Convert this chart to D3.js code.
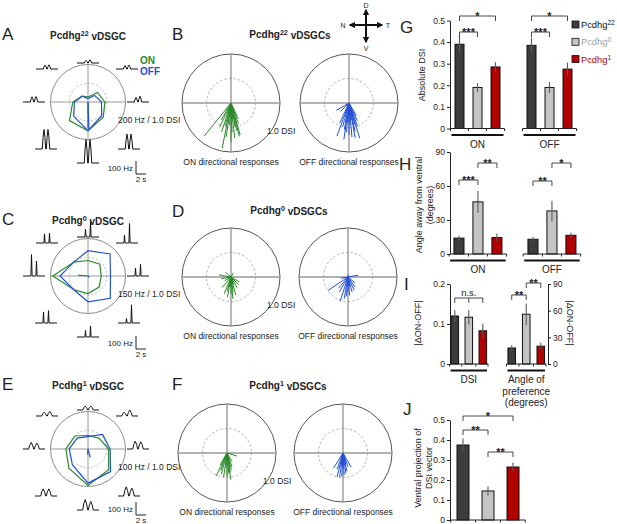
<!DOCTYPE html>
<html>
<head>
<meta charset="utf-8">
<script src="https://cdn.jsdelivr.net/npm/d3@7"></script>
<style>
  body { margin: 0; background: #fff; }
  svg { font-family: "Liberation Sans", Arial, Helvetica, sans-serif; }
</style>
</head>
<body>
<script>
// directions of motion, degrees counter-clockwise from temporal (E, NE, N, NW, W, SW, S, SE)
const directions = [0, 45, 90, 135, 180, 225, 270, 315];

// example cells: firing rate (Hz) per direction
const rateA_on  = [90, 72, 27, 45, 81, 140, 153, 115];
const rateA_off = [72, 50, 18, 43, 72, 108, 153, 103];
const rateC_on  = [53, 67, 62, 79, 141, 78, 70, 63];
const rateC_off = [90, 125, 101, 80, 112, 79, 103, 126];
const rateE_on  = [55, 41, 36, 49, 59, 72, 97, 78];
const rateE_off = [59, 55, 33, 41, 50, 59, 91, 85];

// DSI vector of each example cell: [angle from ventral (deg, + = temporal), DSI]
const vecA_on = [0, 0.70],   vecA_off = [2, 0.72];
const vecC_on = [-95, 0.27], vecC_off = [40, 0.05];
const vecE_on = [-5, 0.15],  vecE_off = [15, 0.24];

// peak firing in the example traces (Hz): [ON, OFF] per direction
const traceA = [[35, 45], [25, 30], [20, 24], [30, 32], [40, 42], [150, 150], [180, 180], [115, 115]];
const traceC = [[60, 90], [60, 150], [60, 120], [70, 75], [165, 115], [85, 95], [50, 85], [35, 140]];
const traceE = [[60, 55], [30, 45], [30, 30], [30, 35], [50, 45], [55, 55], [80, 65], [70, 60]];

// population DSI vectors: [angle from ventral, DSI]
const popB_on  = [[-39, 0.87], [-11, 0.94], [16, 0.68], [-25, 0.55], [-18, 0.62], [-8, 0.7], [-4, 0.45], [2, 0.6],
                  [6, 0.72], [10, 0.5], [12, 0.58], [20, 0.45], [25, 0.35], [-30, 0.4], [0, 0.8], [4, 0.38],
                  [-14, 0.48], [8, 0.3], [-6, 0.3], [14, 0.7]];
const popB_off = [[-20, 0.72], [-60, 0.3], [-45, 0.25], [17, 0.75], [10, 0.72], [5, 0.7], [0, 0.65], [-5, 0.6],
                  [-10, 0.55], [-15, 0.5], [12, 0.6], [20, 0.5], [25, 0.4], [-25, 0.45], [3, 0.45], [-3, 0.4],
                  [8, 0.35], [30, 0.3], [-8, 0.75], [15, 0.45]];
const popD_on  = [[-100, 0.25], [-80, 0.2], [-22, 0.37], [-10, 0.42], [0, 0.35], [8, 0.3], [15, 0.38], [30, 0.25],
                  [60, 0.2], [-40, 0.28], [-5, 0.2], [20, 0.15], [45, 0.22], [-60, 0.15], [-130, 0.15], [150, 0.1],
                  [5, 0.45], [-15, 0.3]];
const popD_off = [[-56, 0.49], [-18, 0.52], [100, 0.21], [-10, 0.45], [-5, 0.4], [5, 0.38], [15, 0.32], [25, 0.3],
                  [35, 0.25], [-30, 0.35], [-40, 0.3], [0, 0.3], [10, 0.2], [170, 0.05], [-80, 0.15], [50, 0.18]];
const popF_on  = [[-25, 0.52], [73, 0.21], [-15, 0.45], [-8, 0.5], [0, 0.48], [5, 0.42], [10, 0.4], [15, 0.35],
                  [-20, 0.38], [20, 0.3], [-5, 0.3], [3, 0.25], [30, 0.2], [-30, 0.28], [8, 0.55]];
const popF_off = [[-32, 0.36], [-14, 0.5], [30, 0.33], [-8, 0.5], [-3, 0.48], [3, 0.45], [8, 0.42], [12, 0.38],
                  [20, 0.3], [-20, 0.35], [0, 0.3], [5, 0.25], [-10, 0.28], [15, 0.22]];

// summary bars (order: Pcdhg22, Pcdhg0, Pcdhg1)
const genotypes = ['22', '0', '1'];
const absDsiOn = [0.39, 0.19, 0.285],  absDsiOnErr = [0.04, 0.02, 0.022];
const absDsiOff = [0.385, 0.19, 0.275], absDsiOffErr = [0.035, 0.025, 0.03];
const angleOn = [14, 46, 14.5],  angleOnErr = [2, 9.5, 3.5];
const angleOff = [13, 38, 16.5], angleOffErr = [2, 9, 2.5];
const diffDsi = [0.12, 0.117, 0.083], diffDsiErr = [0.015, 0.018, 0.018];
const diffAngle = [18, 56, 20],      diffAngleErr = [3, 12, 4];
const ventral = [0.375, 0.145, 0.265], ventralErr = [0.033, 0.022, 0.022];

const ticksG = [0, 0.1, 0.2, 0.3, 0.4, 0.5];
const ticksH = [0, 30, 60, 90];
const ticksIdsi = [0, 0.1, 0.2];
const ticksIang = [0, 30, 60, 90];
const ticksJ = [0, 0.1, 0.2, 0.3, 0.4, 0.5];

// ---- drawing ----
const green = '#2a8a2a', blue = '#2350d6';
const barFill = ['#3c3c3c', '#c4c4c4', '#b00000'];
const legendText = ['#111', '#a0a0a0', '#b00000'];

const svg = d3.select('body').append('svg')
    .attr('width', 617)
    .attr('height', 524);

function supText(sel, parts) {
  let shifted = false;
  parts.forEach(([t, sup]) => {
    const ts = sel.append('tspan').text(t);
    if (sup && !shifted) { ts.attr('dy', '-0.45em').attr('font-size', '0.72em'); shifted = true; }
    else if (sup) { ts.attr('font-size', '0.72em'); }
    else if (shifted) { ts.attr('dy', '0.45em'); shifted = false; }
  });
  return sel;
}

function panelLetter(x, y, t) {
  svg.append('text').attr('x', x).attr('y', y).attr('font-size', 17).attr('fill', '#222').text(t);
}

function title(x, y, sup, suffix) {
  const t = svg.append('text').attr('x', x).attr('y', y)
      .attr('text-anchor', 'middle').attr('font-size', 10).attr('font-weight', 'bold').attr('fill', '#222');
  supText(t, [['Pcdhg'], [sup, true], [suffix]]);
}

// example cell with polar plot and traces
const traceOffset = [[50, 0], [39, -33], [0, -39], [-41, -33], [-54, 0], [-42, 47], [0, 61], [41, 47]];
const peakShape = {
  spike: [[-1, 0], [0, 1], [1, 0]],
  bump: [[-1, 0], [-0.55, 0.6], [0, 1], [0.55, 0.6], [1, 0]]
};

function drawCell(p) {
  const g = svg.append('g').attr('transform', `translate(${p.cx},${p.cy})`);
  const R = 37.5;
  const r = d3.scaleLinear().domain([0, p.maxHz]).range([0, R]);
  const dsi = d3.scaleLinear().domain([0, 1]).range([0, R]);

  g.append('circle').attr('r', R).attr('fill', 'none').attr('stroke', '#8c8c8c').attr('stroke-width', 1);
  g.append('circle').attr('r', R / 2).attr('fill', 'none').attr('stroke', '#aaa')
      .attr('stroke-width', 0.8).attr('stroke-dasharray', '2,2');
  g.append('line').attr('x1', -R).attr('x2', R).attr('stroke', '#9a9a9a').attr('stroke-width', 1);
  g.append('line').attr('y1', -R).attr('y2', R).attr('stroke', '#9a9a9a').attr('stroke-width', 1);

  const radial = d3.lineRadial()
      .angle(d => (90 - d[0]) * Math.PI / 180)
      .radius(d => r(d[1]))
      .curve(d3.curveLinearClosed);

  [[p.on, green], [p.off, blue]].forEach(([rates, c]) => {
    g.append('path').datum(d3.zip(directions, rates))
        .attr('d', radial).attr('fill', 'none').attr('stroke', c).attr('stroke-width', 1.2);
  });
  [[p.vecOn, green], [p.vecOff, blue]].forEach(([v, c]) => {
    const a = v[0] * Math.PI / 180;
    g.append('line').attr('x2', dsi(v[1]) * Math.sin(a)).attr('y2', dsi(v[1]) * Math.cos(a))
        .attr('stroke', c).attr('stroke-width', 1.2);
  });

  // spike-rate traces
  const hz = d3.scaleLinear().domain([0, 100]).range([0, 13]);
  const line = d3.line();
  p.traces.forEach((pk, i) => {
    const [ox, oy] = traceOffset[i];
    const pts = [[-11, 0]];
    pk.forEach((h, k) => {
      const c = (k === 0 ? -1 : 1) * p.sep;
      peakShape[p.shape].forEach(s => pts.push([c + s[0] * p.hw, -hz(h) * s[1]]));
    });
    pts.push([11, 0]);
    g.append('path').attr('transform', `translate(${ox},${oy})`)
        .attr('d', line(pts)).attr('fill', 'none').attr('stroke', '#111').attr('stroke-width', 1);
  });

  // labels
  g.append('text').attr('x', 30).attr('y', 21).attr('font-size', 8.5).attr('fill', '#222')
      .text(`${p.maxHz} Hz / 1.0 DSI`);
  const sb = svg.append('g').attr('transform', `translate(136,${p.barY})`);
  sb.append('path').attr('d', 'M0,-13V0H10').attr('fill', 'none').attr('stroke', '#222').attr('stroke-width', 1);
  sb.append('text').attr('x', -3).attr('y', -3).attr('text-anchor', 'end').attr('font-size', 8).attr('fill', '#222').text('100 Hz');
  sb.append('text').attr('x', 5).attr('y', 8).attr('text-anchor', 'middle').attr('font-size', 8).attr('fill', '#222').text('2 s');
}

drawCell({cx: 88, cy: 102, maxHz: 200, on: rateA_on, off: rateA_off, vecOn: vecA_on, vecOff: vecA_off,
          traces: traceA, shape: 'bump', hw: 1.7, sep: 2, barY: 174});
drawCell({cx: 88, cy: 276, maxHz: 150, on: rateC_on, off: rateC_off, vecOn: vecC_on, vecOff: vecC_off,
          traces: traceC, shape: 'spike', hw: 0.6, sep: 2.5, barY: 349});
drawCell({cx: 88, cy: 449, maxHz: 100, on: rateE_on, off: rateE_off, vecOn: vecE_on, vecOff: vecE_off,
          traces: traceE, shape: 'bump', hw: 2.5, sep: 2.8, barY: 515});

svg.append('text').attr('x', 140).attr('y', 64).attr('font-size', 10).attr('font-weight', 'bold').attr('fill', green).text('ON');
svg.append('text').attr('x', 140).attr('y', 75).attr('font-size', 10).attr('font-weight', 'bold').attr('fill', blue).text('OFF');

panelLetter(2, 40, 'A'); title(88, 39, '22', ' vDSGC');
panelLetter(2, 225, 'C'); title(88, 224, '0', ' vDSGC');
panelLetter(2, 390, 'E'); title(88, 389, '1', ' vDSGC');

// population vector plots
function drawPop(cx, cy, vecs, color, label, showDsi) {
  const R = 49;
  const dsi = d3.scaleLinear().domain([0, 1]).range([0, R]);
  const g = svg.append('g').attr('transform', `translate(${cx},${cy})`);
  g.append('circle').attr('r', R).attr('fill', 'none').attr('stroke', '#555').attr('stroke-width', 1);
  g.append('circle').attr('r', dsi(0.5)).attr('fill', 'none').attr('stroke', '#aaa')
      .attr('stroke-width', 0.9).attr('stroke-dasharray', '2.5,2');
  g.append('line').attr('x1', -R).attr('x2', R).attr('stroke', '#999').attr('stroke-width', 1.4);
  g.append('line').attr('y1', -R).attr('y2', R).attr('stroke', '#999').attr('stroke-width', 1.4);
  g.selectAll('.vec').data(vecs).join('line')
      .attr('class', 'vec')
      .attr('x2', d => dsi(d[1]) * Math.sin(d[0] * Math.PI / 180))
      .attr('y2', d => dsi(d[1]) * Math.cos(d[0] * Math.PI / 180))
      .attr('stroke', color).attr('stroke-width', 1);
  g.append('text').attr('y', 62).attr('text-anchor', 'middle').attr('font-size', 8.5).attr('fill', '#222').text(label);
  if (showDsi) {
    g.append('text').attr('x', 36).attr('y', 31).attr('font-size', 8.5).attr('fill', '#222').text('1.0 DSI');
  }
}

drawPop(231, 103, popB_on, green, 'ON directional responses', true);
drawPop(349, 103, popB_off, blue, 'OFF directional responses');
drawPop(231, 277, popD_on, green, 'ON directional responses', true);
drawPop(348, 277, popD_off, blue, 'OFF directional responses');
drawPop(227, 453, popF_on, green, 'ON directional responses', true);
drawPop(343, 453, popF_off, blue, 'OFF directional responses');

panelLetter(172, 40, 'B'); title(290, 38, '22', ' vDSGCs');
panelLetter(172, 217, 'D'); title(289, 214, '0', ' vDSGCs');
panelLetter(172, 390, 'F'); title(288, 389, '1', ' vDSGCs');

// compass
const defs = svg.append('defs');
defs.append('marker').attr('id', 'arrow').attr('viewBox', '0 0 10 10').attr('refX', 8).attr('refY', 5)
    .attr('markerWidth', 3.2).attr('markerHeight', 3.2).attr('orient', 'auto-start-reverse')
  .append('path').attr('d', 'M0,0L10,5L0,10z').attr('fill', '#111');
const comp = svg.append('g').attr('transform', 'translate(366,25)');
comp.append('line').attr('y1', -15).attr('y2', 17).attr('stroke', '#111').attr('stroke-width', 2)
    .attr('marker-start', 'url(#arrow)').attr('marker-end', 'url(#arrow)');
comp.append('line').attr('x1', -16).attr('x2', 16).attr('stroke', '#111').attr('stroke-width', 2)
    .attr('marker-start', 'url(#arrow)').attr('marker-end', 'url(#arrow)');
[['D', 0, -17.5], ['V', 0, 26], ['N', -23, 2.5], ['T', 22, 2.5]].forEach(([t, x, y]) => {
  comp.append('text').attr('x', x).attr('y', y).attr('text-anchor', 'middle').attr('font-size', 7).attr('fill', '#222').text(t);
});

// ---- bar charts ----
function bracket(xs, y, label, drop = 5) {
  const x0 = xs[0], x1 = xs[xs.length - 1];
  let d = `M${x0},${y + drop}V${y}H${x1}V${y + drop}`;
  xs.slice(1, -1).forEach(x => { d += `M${x},${y}V${y + drop}`; });
  svg.append('path').attr('d', d).attr('fill', 'none').attr('stroke', '#333').attr('stroke-width', 0.9);
  const star = label.startsWith('*');
  svg.append('text').attr('x', (x0 + x1) / 2).attr('y', star ? y + 3.5 : y - 2.5)
      .attr('text-anchor', 'middle').attr('font-size', star ? 11 : 9.5).attr('font-weight', star ? 'bold' : 'normal')
      .attr('fill', '#222').text(label);
}

function barGroup(y, band, values, errs, base, opts = {}) {
  const g = svg.append('g');
  genotypes.forEach((k, i) => {
    g.append('rect').attr('x', band(k)).attr('width', band.bandwidth())
        .attr('y', y(values[i])).attr('height', y(0) - y(values[i]))
        .attr('fill', barFill[i]).attr('stroke', '#111').attr('stroke-width', 1);
    const cx = band(k) + band.bandwidth() / 2;
    g.append('line').attr('x1', cx).attr('x2', cx)
        .attr('y1', y(values[i] - errs[i])).attr('y2', y(values[i] + errs[i]))
        .attr('stroke', '#5a5a5a').attr('stroke-width', 1.1);
  });
  const [r0, r1] = band.range();
  const xs0 = opts.axisStart !== undefined ? opts.axisStart : r0;
  g.append('line').attr('x1', xs0).attr('x2', r1).attr('y1', base).attr('y2', base).attr('stroke', '#222');
  const step = band.step();
  const ticks = [r0, ...genotypes.slice(1).map(k => band(k) - (step - band.bandwidth()) / 2), r1];
  ticks.forEach(x => g.append('line').attr('x1', x).attr('x2', x).attr('y1', base).attr('y2', base + 2.5).attr('stroke', '#222'));
  if (opts.label !== undefined) {
    g.append('line').attr('x1', r0 + 1).attr('x2', r1 - 1).attr('y1', base + 6.5).attr('y2', base + 6.5)
        .attr('stroke', '#111').attr('stroke-width', 2);
    opts.label.forEach((t, i) => {
      g.append('text').attr('x', (r0 + r1) / 2).attr('y', base + 19 + i * 11.5).attr('text-anchor', 'middle')
          .attr('font-size', 10).attr('fill', '#222').text(t);
    });
  }
  return genotypes.map(k => band(k) + band.bandwidth() / 2);
}

function yAxis(y, ticks, x, fmt, right) {
  const ax = (right ? d3.axisRight(y) : d3.axisLeft(y)).tickValues(ticks).tickSize(3).tickSizeOuter(0).tickPadding(2).tickFormat(fmt);
  const g = svg.append('g').attr('transform', `translate(${x},0)`).call(ax);
  g.selectAll('text').attr('font-size', 8.5).attr('fill', '#222').style('font-family', 'inherit');
  g.selectAll('line,path').attr('stroke', '#222');
  return g;
}

function yLabel(x, y, lines, rot = -90) {
  lines.forEach((t, i) => {
    svg.append('text').attr('transform', `translate(${x + i * 11},${y}) rotate(${rot})`)
        .attr('text-anchor', 'middle').attr('font-size', 9).attr('fill', '#222').text(t);
  });
}

const numFmt = d => d === 0 ? '0' : d3.format('.1f')(d);

// G
const yG = d3.scaleLinear().domain([0, 0.5]).range([128.5, 20.5]);
yAxis(yG, ticksG, 450, numFmt);
yLabel(425, 75, ['Absolute DSI']);
const bandG_on = d3.scaleBand().domain(genotypes).range([450.5, 504.5]).paddingInner(0.5).paddingOuter(0.25);
const bandG_off = d3.scaleBand().domain(genotypes).range([522.5, 576.5]).paddingInner(0.5).paddingOuter(0.25);
const gOn = barGroup(yG, bandG_on, absDsiOn, absDsiOnErr, 128.5, {label: ['ON'], axisStart: 450});
const gOff = barGroup(yG, bandG_off, absDsiOff, absDsiOffErr, 128.5, {label: ['OFF']});
bracket([gOn[0], gOn[1]], 32, '***');
bracket([gOn[0], gOn[2]], 16, '*');
bracket([gOff[0], gOff[1]], 32, '***');
bracket([gOff[0], gOff[2]], 16, '*');
panelLetter(400, 33, 'G');

// legend
genotypes.forEach((k, i) => {
  svg.append('rect').attr('x', 572).attr('y', 21 + i * 17.3).attr('width', 7).attr('height', 7)
      .attr('fill', barFill[i]).attr('stroke', '#111').attr('stroke-width', 0.8);
  const t = svg.append('text').attr('x', 581).attr('y', 28 + i * 17.3).attr('font-size', 9.3).attr('fill', legendText[i]);
  supText(t, [['Pcdhg'], [k, true]]);
});

// H
const yH = d3.scaleLinear().domain([0, 90]).range([254, 152]);
yAxis(yH, ticksH, 450, d3.format('d'));
yLabel(422, 205, ['Angle away from ventral', '(degrees)']);
const bandH_on = d3.scaleBand().domain(genotypes).range([449.2, 506.7]).paddingInner(0.47).paddingOuter(0.25);
const bandH_off = d3.scaleBand().domain(genotypes).range([523.2, 580.7]).paddingInner(0.47).paddingOuter(0.25);
const hOn = barGroup(yH, bandH_on, angleOn, angleOnErr, 254, {label: ['ON'], axisStart: 450});
const hOff = barGroup(yH, bandH_off, angleOff, angleOffErr, 254, {label: ['OFF']});
bracket([hOn[0], hOn[1]], 180, '***');
bracket([hOn[1], hOn[2]], 163, '**');
bracket([hOff[0], hOff[1]], 181, '**');
bracket([hOff[1], hOff[2]], 163, '*');
panelLetter(399, 170, 'H');

// I
const yIdsi = d3.scaleLinear().domain([0, 0.2]).range([364, 284]);
const yIang = d3.scaleLinear().domain([0, 90]).range([364, 284]);
yAxis(yIdsi, ticksIdsi, 450, numFmt);
yAxis(yIang, ticksIang, 548, d3.format('d'), true);
yLabel(421, 323, ['|\u0394ON-OFF|']);
yLabel(567, 323, ['|\u0394ON-OFF|'], 90);
const bandI_dsi = d3.scaleBand().domain(genotypes).range([449.6, 488]).paddingInner(0.46).paddingOuter(0.1);
const bandI_ang = d3.scaleBand().domain(genotypes).range([506.5, 546]).paddingInner(0.48).paddingOuter(0.1);
const iD = barGroup(yIdsi, bandI_dsi, diffDsi, diffDsiErr, 364, {label: ['DSI'], axisStart: 450});
const iA = barGroup(yIang, bandI_ang, diffAngle, diffAngleErr, 364, {label: ['Angle of', 'preference', '(degrees)']});
bracket(iD, 298, 'n.s.');
bracket([iA[0], iA[1]], 295, '**');
bracket([iA[1], iA[2]], 283, '**');
panelLetter(404, 290, 'I');

// J
const yJ = d3.scaleLinear().domain([0, 0.5]).range([520, 420]);
yAxis(yJ, ticksJ, 450, numFmt);
yLabel(421, 468, ['Ventral projection of', 'DSI vector']);
const bandJ = d3.scaleBand().domain(genotypes).range([450.75, 525.25]).paddingInner(0.52).paddingOuter(0.25);
const jB = barGroup(yJ, bandJ, ventral, ventralErr, 520, {axisStart: 450});
bracket([jB[0], jB[1]], 430, '**');
bracket([jB[1], jB[2]], 452, '**');
bracket([jB[0], jB[2]], 416, '*');
panelLetter(403, 415, 'J');
</script>
</body>
</html>
